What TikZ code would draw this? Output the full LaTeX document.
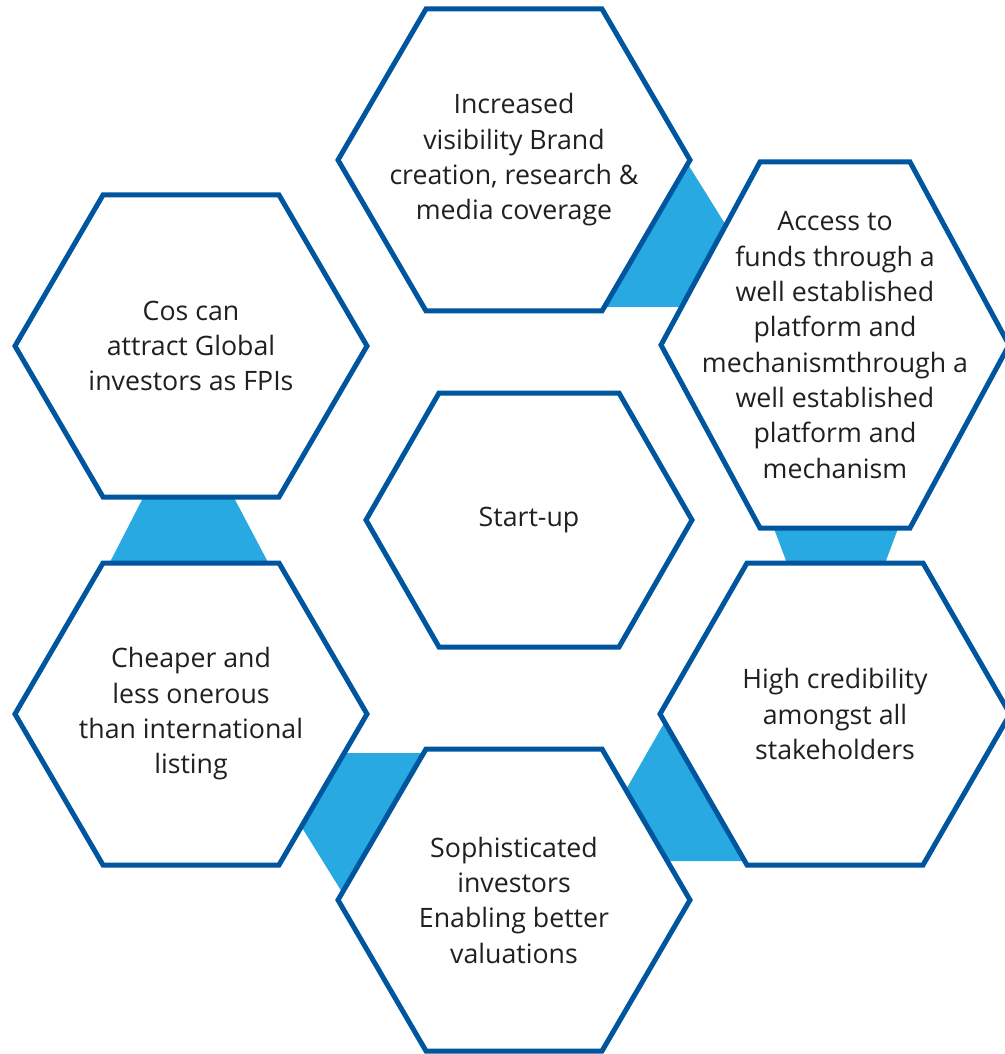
\documentclass[tikz,border=0pt]{standalone}
\usepackage{fontspec}
\setmainfont{Open Sans}
\definecolor{hexblue}{HTML}{00559F}
\definecolor{bandblue}{HTML}{29A9E1}
\definecolor{txtgrey}{HTML}{231F20}
\begin{document}
\begin{tikzpicture}[x=0.2mm,y=-0.2mm]
    \useasboundingbox (0,0) rectangle (1005,1054);
    \coordinate (top) at (514,160);
    \coordinate (topright) at (835,345);
    \coordinate (left) at (191,346);
    \coordinate (mid) at (529,520);
    \coordinate (lowleft) at (191,714);
    \coordinate (right) at (835,714);
    \coordinate (bottom) at (514,900);
    \begin{scope}
        \tikzstyle{band}=[fill=bandblue, draw=none]
        \fill[band] (689,166) -- (737,243) -- (700,307) -- (598,307) -- cycle;
        \fill[band] (145,494) -- (232,494) -- (270,566) -- (108,566) -- cycle;
        \fill[band] (773,526) -- (899,526) -- (884,566) -- (788,566) -- cycle;
        \fill[band] (667,718) -- (752,861) -- (660,861) -- (620,800) -- cycle;
        \fill[band] (330,753) -- (430,753) -- (350,905) -- (296,818) -- cycle;
    \end{scope}
    \begin{scope}
        \tikzstyle{hexline}=[fill=white, draw=hexblue, line width=1mm]
        \foreach \c/\hwid/\hhgt/\htop in {top/176/151/88, topright/174/183/75,
            left/176/151/88, mid/163/127/90, lowleft/176/151/88,
            right/175/151/88, bottom/176/151/88}
            \draw[hexline] (\c) ++(-\hwid,0) -- ++(\hwid-\htop,-\hhgt) -- ++(2*\htop,0)
                -- ++(\hwid-\htop,\hhgt) -- ++(\htop-\hwid,\hhgt) -- ++(-2*\htop,0) -- cycle;
    \end{scope}
    \begin{scope}
        \tikzstyle{every node}=[align=center, text=txtgrey, inner sep=0pt,
            font=\fontsize{15.2}{20.1}\selectfont]
        \node (visibility) at (top) {Increased\\visibility Brand\\creation, research \&\\media coverage};
        \node (funds) at (topright) {Access to\\funds through a\\well established\\platform and\\mechanismthrough a\\well established\\platform and\\mechanism};
        \node (global) at (left) {Cos can\\attract Global\\investors as FPIs};
        \node (startup) at (mid) {Start-up};
        \node (cheaper) at (lowleft) {Cheaper and\\less onerous\\than international\\listing};
        \node (credibility) at (right) {High credibility\\amongst all\\stakeholders};
        \node (valuations) at (bottom) {Sophisticated\\investors\\Enabling better\\valuations};
    \end{scope}
\end{tikzpicture}
\end{document}
